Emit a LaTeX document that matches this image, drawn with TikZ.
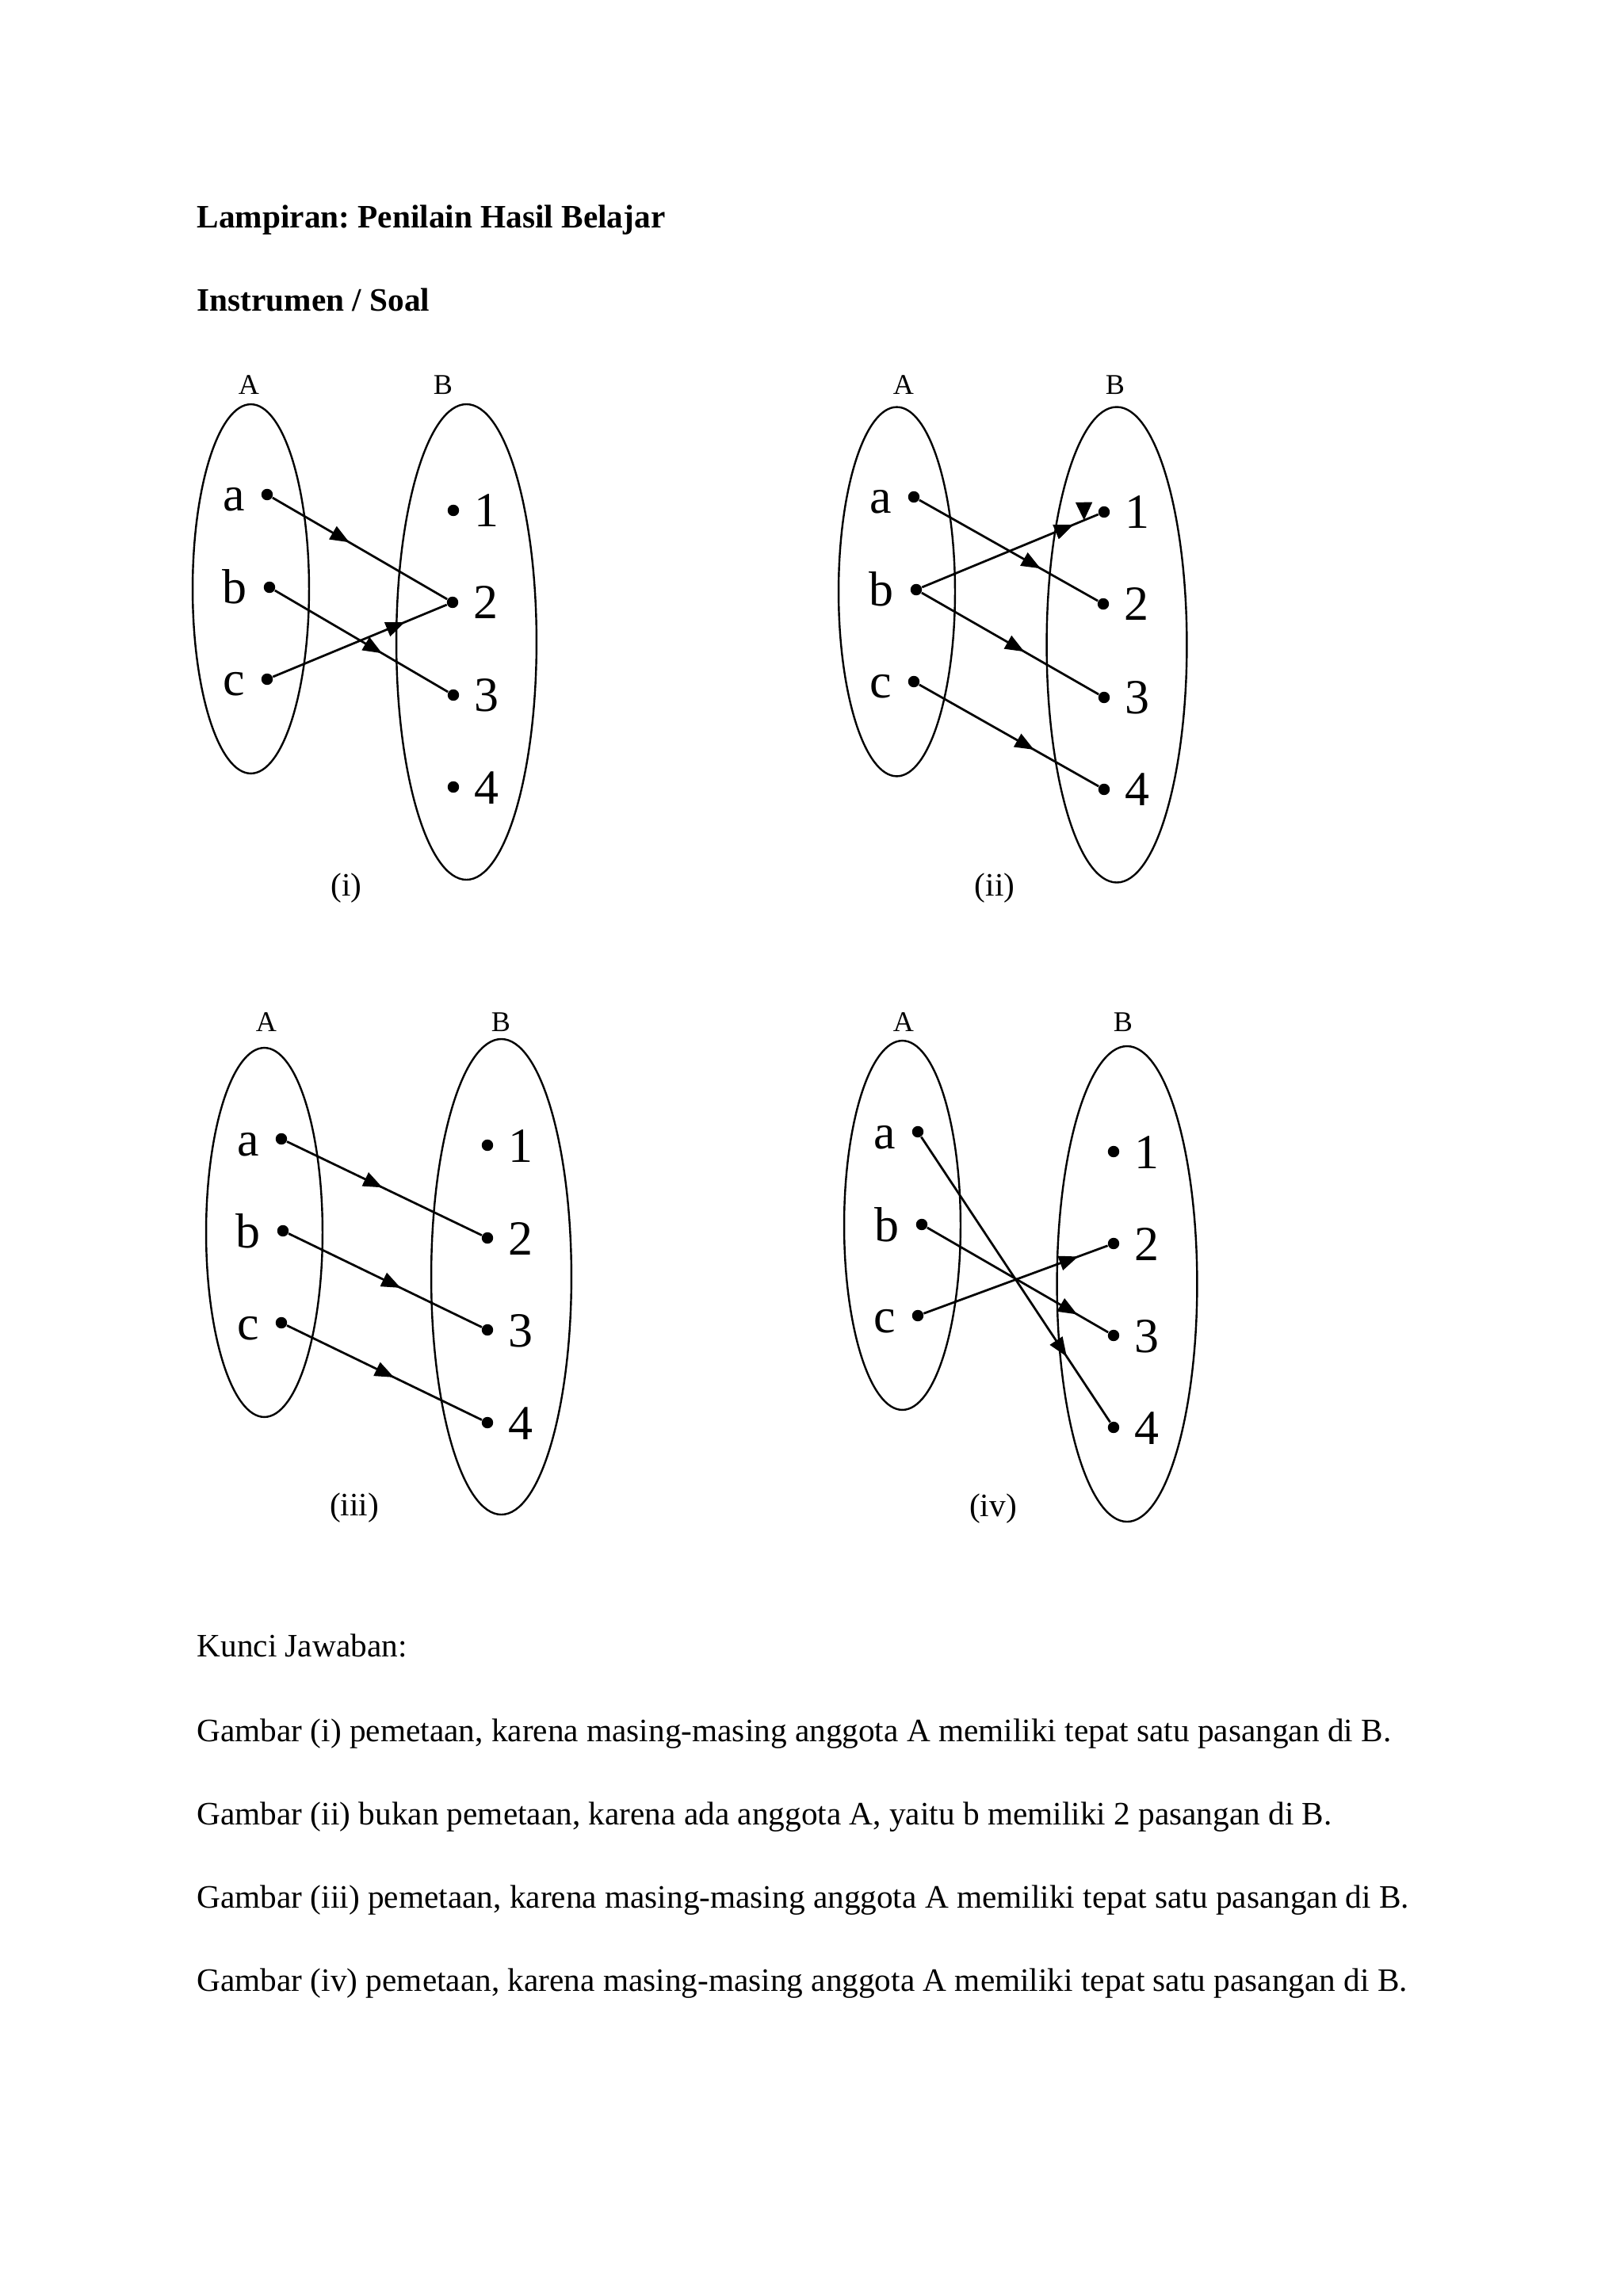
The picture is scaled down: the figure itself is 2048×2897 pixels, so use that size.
\documentclass[tikz,border=0pt]{standalone}
\usepackage{fontspec}
\setmainfont{Liberation Serif}
\usetikzlibrary{shapes.geometric, arrows.meta, decorations.markings}
\frenchspacing

\begin{document}
\begin{tikzpicture}[
    x=0.29067pt, y=-0.29067pt,
    every node/.style={inner sep=0pt},
    setA/.style={ellipse, draw, line width=0.7pt, minimum width=42.7pt, minimum height=135.4pt},
    setB/.style={ellipse, draw, line width=0.7pt, minimum width=51.4pt, minimum height=174.4pt},
    elm/.style={circle, fill, minimum size=4.2pt},
    eltxt/.style={font=\fontsize{18}{20}\selectfont},
    inA/.style={elm, label={[eltxt, anchor=base east, xshift=-5.7pt, yshift=-6.1pt]left:#1}},
    inB/.style={elm, label={[eltxt, anchor=base west, xshift=5.1pt, yshift=-6.1pt]right:#1}},
    setname/.style={anchor=base, font=\fontsize{10.5}{12}\selectfont},
    figlbl/.style={anchor=base, font=\fontsize{12}{14}\selectfont},
    txt/.style={anchor=base west, font=\fontsize{12}{14}\selectfont},
    head/.style={anchor=base west, font=\fontsize{12}{14}\selectfont\bfseries},
    fn/.style={line width=0.8pt, postaction={decorate}, decoration={markings, mark=at position #1 with {\arrow{Triangle[length=7pt, width=5.4pt]}}}}
  ]
  \fill[white] (0,0) rectangle (2048,2897);
  \useasboundingbox (0,0) rectangle (2048,2897);

  \node[head] (title) at (248,287) {Lampiran: Penilain Hasil Belajar};
  \node[head] (soal) at (248,392) {Instrumen / Soal};

  % (i)
  \node[setA] (iA) at (316.5,743) {};
  \node[setB] (iB) at (588.5,810) {};
  \node[setname] (iAn) at (314,497) {A};
  \node[setname] (iBn) at (559,497) {B};
  \node[inA=a] (ia) at (337,624) {};
  \node[inA=b] (ib) at (340,741) {};
  \node[inA=c] (ic) at (337,857) {};
  \node[inB=1] (i1) at (572,644) {};
  \node[inB=2] (i2) at (571,760) {};
  \node[inB=3] (i3) at (572,877) {};
  \node[inB=4] (i4) at (572,993) {};
  \draw[fn=0.44] (ia) -- (i2);
  \draw[fn=0.62] (ib) -- (i3);
  \draw[fn=0.76] (ic) -- (i2);
  \node[figlbl] (icap) at (437,1130) {(i)};

  % (ii)
  \node[setA] (iiA) at (1131.5,746.5) {};
  \node[setB] (iiB) at (1409,813.5) {};
  \node[setname] (iiAn) at (1140,497) {A};
  \node[setname] (iiBn) at (1407,497) {B};
  \node[inA=a] (iia) at (1153,627) {};
  \node[inA=b] (iib) at (1156,744) {};
  \node[inA=c] (iic) at (1153,860) {};
  \node[inB=1] (ii1) at (1393,646) {};
  \node[inB=2] (ii2) at (1392,762) {};
  \node[inB=3] (ii3) at (1393,880) {};
  \node[inB=4] (ii4) at (1393,996) {};
  \draw[fn=0.68] (iia) -- (ii2);
  \draw[fn=0.86, postaction={decorate, decoration={markings, mark=at position 0.92 with {\pgftransformrotate{-112}\arrow{Triangle[length=6.6pt, width=6pt]}}}}] (iib) -- (ii1);
  \draw[fn=0.58] (iib) -- (ii3);
  \draw[fn=0.64] (iic) -- (ii4);
  \node[figlbl] (iicap) at (1255,1130) {(ii)};

  % (iii)
  \node[setA] (iiiA) at (333.5,1555) {};
  \node[setB] (iiiB) at (632.5,1611) {};
  \node[setname] (iiiAn) at (336,1301) {A};
  \node[setname] (iiiBn) at (632,1301) {B};
  \node[inA=a] (iiia) at (355,1437) {};
  \node[inA=b] (iiib) at (357,1553) {};
  \node[inA=c] (iiic) at (355,1669) {};
  \node[inB=1] (iii1) at (615,1445) {};
  \node[inB=2] (iii2) at (615,1562) {};
  \node[inB=3] (iii3) at (615,1678) {};
  \node[inB=4] (iii4) at (615,1795) {};
  \draw[fn=0.49] (iiia) -- (iii2);
  \draw[fn=0.58] (iiib) -- (iii3);
  \draw[fn=0.55] (iiic) -- (iii4);
  \node[figlbl] (iiicap) at (447,1912) {(iii)};

  % (iv)
  \node[setA] (ivA) at (1138.5,1546) {};
  \node[setB] (ivB) at (1422,1620) {};
  \node[setname] (ivAn) at (1140,1301) {A};
  \node[setname] (ivBn) at (1417,1301) {B};
  \node[inA=a] (iva) at (1158,1428) {};
  \node[inA=b] (ivb) at (1163,1545) {};
  \node[inA=c] (ivc) at (1158,1660) {};
  \node[inB=1] (iv1) at (1405,1453) {};
  \node[inB=2] (iv2) at (1405,1569) {};
  \node[inB=3] (iv3) at (1405,1685) {};
  \node[inB=4] (iv4) at (1405,1801) {};
  \draw[fn=0.77] (iva) -- (iv4);
  \draw[fn=0.83] (ivb) -- (iv3);
  \draw[fn=0.84] (ivc) -- (iv2);
  \node[figlbl] (ivcap) at (1253,1913) {(iv)};

  \node[txt] (kunci) at (248,2090) {Kunci Jawaban:};
  \node[txt] (ans1) at (248,2197) {Gambar (i) pemetaan, karena masing-masing anggota A memiliki tepat satu pasangan di B.};
  \node[txt] (ans2) at (248,2302) {Gambar (ii) bukan pemetaan, karena ada anggota A, yaitu b memiliki 2 pasangan di B.};
  \node[txt] (ans3) at (248,2407) {Gambar (iii) pemetaan, karena masing-masing anggota A memiliki tepat satu pasangan di B.};
  \node[txt] (ans4) at (248,2512) {Gambar (iv) pemetaan, karena masing-masing anggota A memiliki tepat satu pasangan di B.};
\end{tikzpicture}
\end{document}
